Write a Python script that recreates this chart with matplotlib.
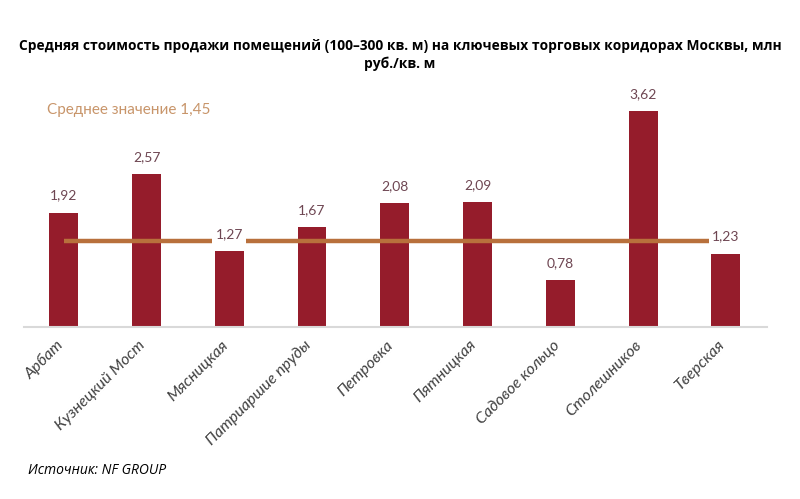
import matplotlib
matplotlib.use('Agg')
import matplotlib.pyplot as plt
import matplotlib.transforms as mtransforms

streets = ['Арбат', 'Кузнецкий Мост', 'Мясницкая', 'Патриаршие пруды', 'Петровка',
           'Пятницкая', 'Садовое кольцо', 'Столешников', 'Тверская']
prices = [1.92, 2.57, 1.27, 1.67, 2.08, 2.09, 0.78, 3.62, 1.23]
labels = ['1,92', '2,57', '1,27', '1,67', '2,08', '2,09', '0,78', '3,62', '1,23']
average = 1.45

BAR = '#951c2b'
LINE = '#b8703c'
LABEL = '#6e4652'

fig = plt.figure(figsize=(8, 4.99), dpi=100)
ax = fig.add_axes([0.03, 0.345, 0.929, 0.477])

x = list(range(len(streets)))
ax.bar(x, prices, width=0.35, color=BAR, zorder=2)
ax.plot([0, 8], [average, average], color=LINE, lw=3.2, solid_capstyle='butt', zorder=3)

for xi, v, s in zip(x, prices, labels):
    ax.annotate(s, (xi, v), xytext=(0, 8), textcoords='offset points', ha='center', va='bottom',
                fontsize=10, color=LABEL, family='Lato', zorder=4,
                bbox=dict(boxstyle='square,pad=0.25', fc='white', ec='none'))

ax.text(-0.2, 3.65, 'Среднее значение 1,45', fontsize=11, color='#c8956a', family='Lato',
        ha='left', va='center')

ax.set_xlim(-0.48, 8.5)
ax.set_ylim(0, 4.0)
ax.set_xticks(x)
ax.set_xticklabels(streets, rotation=45, ha='right', rotation_mode='anchor',
                   fontsize=11.5, style='italic', color='#404040', family='Lato')
ax.tick_params(axis='x', length=0, pad=8)
shift = mtransforms.ScaledTranslation(-6 / 72, 0, fig.dpi_scale_trans)
for lab in ax.get_xticklabels():
    lab.set_transform(lab.get_transform() + shift)
ax.set_yticks([])
for side in ['left', 'right', 'top']:
    ax.spines[side].set_visible(False)
ax.spines['bottom'].set_color('#d9d9d9')
ax.spines['bottom'].set_linewidth(1.5)

fig.text(0.5, 0.907, 'Средняя стоимость продажи помещений (100–300 кв. м) на ключевых торговых коридорах Москвы, млн',
         ha='center', va='center', fontsize=9.9, fontweight='bold', family='Open Sans')
fig.text(0.5, 0.872, 'руб./кв. м', ha='center', va='center', fontsize=9.9, fontweight='bold',
         family='Open Sans')
fig.text(0.035, 0.058, 'Источник: NF GROUP', ha='left', va='center', fontsize=10,
         style='italic', family='Open Sans')

fig.savefig('out.png', dpi=100, facecolor='white')
